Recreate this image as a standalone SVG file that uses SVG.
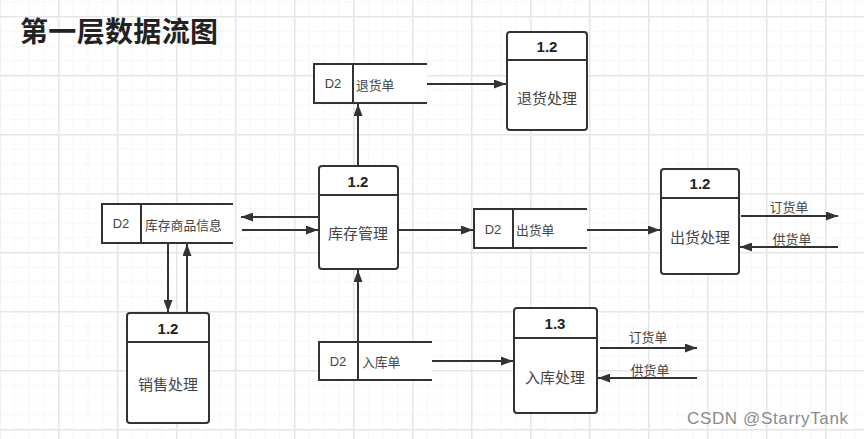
<svg xmlns="http://www.w3.org/2000/svg" width="864" height="439" viewBox="0 0 864 439">
<defs>
<pattern id="minor" x="-1" y="16" width="14.75" height="14.75" patternUnits="userSpaceOnUse">
<path d="M0 0H14.75M0 0V14.75" fill="none" stroke="#e8e8e8" stroke-width="1" stroke-dasharray="2 1"/>
</pattern>
<pattern id="major" x="-1" y="16" width="59" height="59" patternUnits="userSpaceOnUse">
<path d="M0 0.5H59M0.5 0V59" fill="none" stroke="#e6e6e6" stroke-width="2"/>
</pattern>
<marker id="ah" viewBox="0 0 12 9" refX="12" refY="4.5" markerWidth="12" markerHeight="9" markerUnits="userSpaceOnUse" orient="auto">
<path d="M0 0L12 4.5L0 9Z" fill="#333"/>
</marker>
<style>
.box{fill:#fff;stroke:#333;stroke-width:2}
.ln{fill:none;stroke:#333;stroke-width:2}
.st{fill:#fff;stroke:none}
.hd{font-family:"Liberation Sans","Noto Sans CJK SC",sans-serif;font-size:15px;font-weight:bold;fill:#222;text-anchor:middle;dominant-baseline:central}
.lb{font-family:"Noto Sans CJK SC",sans-serif;font-size:15px;fill:#444;text-anchor:middle;dominant-baseline:central}
.sl{font-family:"Noto Sans CJK SC",sans-serif;font-size:12.8px;fill:#444;dominant-baseline:central}
.dl{font-family:"Liberation Sans","Noto Sans CJK SC",sans-serif;font-size:13px;fill:#444;text-anchor:middle;dominant-baseline:central}
.fl{font-family:"Noto Sans CJK SC",sans-serif;font-size:12.8px;fill:#444;text-anchor:middle;dominant-baseline:central}
.ar{fill:none;stroke:#333;stroke-width:2;marker-end:url(#ah)}
</style>
</defs>
<rect width="864" height="439" fill="#fff"/>
<rect width="864" height="439" fill="url(#minor)"/>
<rect width="864" height="439" fill="url(#major)"/>

<text x="20" y="30" font-family="Noto Sans CJK SC,sans-serif" font-size="28" font-weight="bold" fill="#222" dominant-baseline="central" textLength="198">第一层数据流图</text>

<g id="p-tuihuo">
<rect class="box" x="507" y="32" width="80" height="98" rx="3"/>
<line class="ln" x1="507" y1="60" x2="587" y2="60"/>
<text class="hd" x="547" y="46">1.2</text>
<text class="lb" x="547" y="97">退货处理</text>
</g>

<g id="p-kucun">
<rect class="box" x="319" y="166" width="79" height="103" rx="3"/>
<line class="ln" x1="319" y1="195" x2="398" y2="195"/>
<text class="hd" x="358" y="181">1.2</text>
<text class="lb" x="358" y="232">库存管理</text>
</g>

<g id="p-chuhuo">
<rect class="box" x="661" y="169" width="78" height="105" rx="3"/>
<line class="ln" x1="661" y1="198" x2="739" y2="198"/>
<text class="hd" x="700" y="183">1.2</text>
<text class="lb" x="700" y="236">出货处理</text>
</g>

<g id="p-xiaoshou">
<rect class="box" x="127" y="313" width="82" height="110" rx="3"/>
<line class="ln" x1="127" y1="342" x2="209" y2="342"/>
<text class="hd" x="168" y="328">1.2</text>
<text class="lb" x="168" y="383">销售处理</text>
</g>

<g id="p-ruku">
<rect class="box" x="514" y="308" width="83" height="105" rx="3"/>
<line class="ln" x1="514" y1="338" x2="597" y2="338"/>
<text class="hd" x="555" y="323">1.3</text>
<text class="lb" x="555" y="376">入库处理</text>
</g>

<g id="s-tuihuodan">
<rect class="st" x="314" y="64" width="113" height="39"/>
<path class="ln" d="M427 64H314V103H427M353 64V103"/>
<text class="dl" x="333" y="83">D2</text>
<text class="sl" x="356" y="84">退货单</text>
</g>

<g id="s-kucunxinxi">
<rect class="st" x="102" y="204" width="131" height="39"/>
<path class="ln" d="M233 204H102V243H233M141 204V243"/>
<text class="dl" x="121" y="223">D2</text>
<text class="sl" x="145" y="224">库存商品信息</text>
</g>

<g id="s-chuhuodan">
<rect class="st" x="474" y="209" width="113" height="39"/>
<path class="ln" d="M587 209H474V248H587M513 209V248"/>
<text class="dl" x="493" y="229">D2</text>
<text class="sl" x="516" y="229">出货单</text>
</g>

<g id="s-rukudan">
<rect class="st" x="319" y="342" width="113" height="38"/>
<path class="ln" d="M432 342H319V380H432M358 342V380"/>
<text class="dl" x="338" y="361">D2</text>
<text class="sl" x="362" y="361">入库单</text>
</g>

<g id="connectors">
<line class="ar" x1="358" y1="166" x2="358" y2="104"/>
<line class="ar" x1="427" y1="84" x2="506" y2="84"/>
<line class="ar" x1="319" y1="217" x2="241" y2="217"/>
<line class="ar" x1="242" y1="230" x2="318" y2="230"/>
<line class="ar" x1="168" y1="243" x2="168" y2="312"/>
<line class="ar" x1="187" y1="313" x2="187" y2="244"/>
<line class="ar" x1="398" y1="230" x2="473" y2="230"/>
<line class="ar" x1="587" y1="230" x2="660" y2="230"/>
<line class="ar" x1="741" y1="216" x2="838" y2="216"/>
<line class="ar" x1="838" y1="247" x2="740" y2="247"/>
<line class="ar" x1="358" y1="342" x2="358" y2="270"/>
<line class="ar" x1="432" y1="361" x2="513" y2="361"/>
<line class="ar" x1="600" y1="348" x2="697" y2="348"/>
<line class="ar" x1="697" y1="378" x2="598" y2="378"/>
<text class="fl" x="789" y="206">订货单</text>
<text class="fl" x="792" y="238">供货单</text>
<text class="fl" x="648" y="336">订货单</text>
<text class="fl" x="650" y="369">供货单</text>
</g>

<text x="687" y="418" font-family="Liberation Sans,sans-serif" font-size="17" fill="#8a8a8a" dominant-baseline="central" textLength="161">CSDN @StarryTank</text>
</svg>
